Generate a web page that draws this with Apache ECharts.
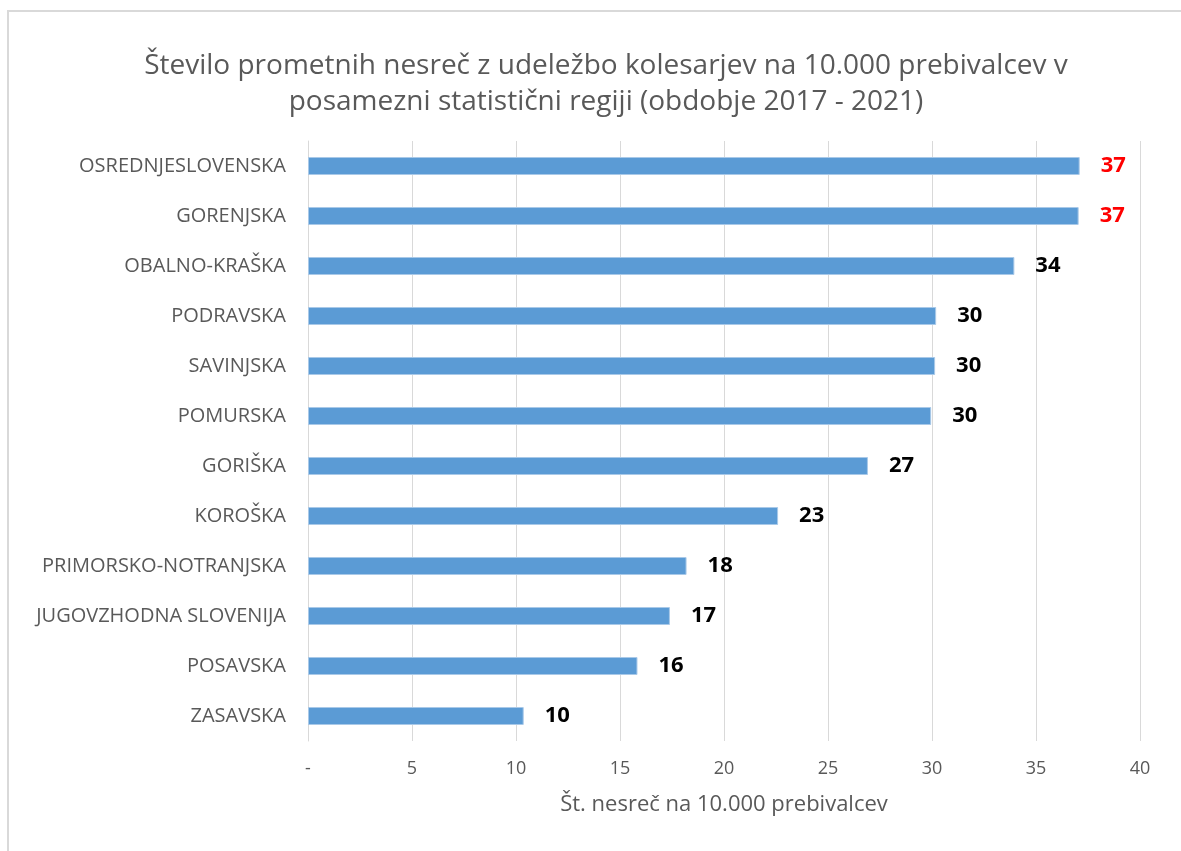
<!DOCTYPE html>
<html>
<head>
<meta charset="utf-8">
<script src="https://cdn.jsdelivr.net/npm/echarts@6/dist/echarts.min.js"></script>
<style>
  html, body { margin: 0; padding: 0; background: #fff; }
  #frame { position: absolute; left: 7px; top: 10px; width: 1174px; height: 841px;
           border-left: 2px solid #d9d9d9; border-top: 2px solid #d9d9d9; box-sizing: border-box; }
  #chart { position: absolute; left: 0; top: 0; width: 1181px; height: 851px; }
</style>
</head>
<body>
<div id="frame"></div>
<div id="chart"></div>
<script>
const regions = [
  'OSREDNJESLOVENSKA', 'GORENJSKA', 'OBALNO-KRAŠKA', 'PODRAVSKA', 'SAVINJSKA', 'POMURSKA',
  'GORIŠKA', 'KOROŠKA', 'PRIMORSKO-NOTRANJSKA', 'JUGOVZHODNA SLOVENIJA', 'POSAVSKA', 'ZASAVSKA'
]
const values = [37.1, 37.05, 33.96, 30.2, 30.15, 29.96, 26.92, 22.6, 18.2, 17.4, 15.84, 10.37]
const highlighted = ['OSREDNJESLOVENSKA', 'GORENJSKA'] // rdeče oznake

const titleText = 'Število prometnih nesreč z udeležbo kolesarjev na 10.000 prebivalcev v\nposamezni statistični regiji (obdobje 2017 - 2021)'
const axisName = 'Št. nesreč na 10.000 prebivalcev'

const font = "'Open Sans', 'Liberation Sans', sans-serif"

const barData = values.map((v, i) => ({
  value: v,
  label: { color: highlighted.includes(regions[i]) ? '#ff0000' : '#000000' }
}))

const chart = echarts.init(document.getElementById('chart'))
chart.setOption({
  backgroundColor: 'transparent',
  animation: false,
  title: {
    text: titleText,
    left: 601,
    top: 43,
    textAlign: 'center',
    textStyle: {
      fontFamily: font,
      fontSize: 28,
      fontWeight: 'normal',
      color: '#595959',
      lineHeight: 36
    }
  },
  grid: { left: 308, right: 41, top: 141, bottom: 110, containLabel: false },
  xAxis: {
    type: 'value',
    min: 0,
    max: 40,
    interval: 5,
    name: axisName,
    nameLocation: 'middle',
    nameGap: 53,
    nameTextStyle: { fontFamily: font, fontSize: 22, color: '#595959' },
    axisLine: { show: false },
    axisTick: { show: false },
    axisLabel: {
      margin: 19,
      fontFamily: font,
      fontSize: 18,
      color: '#595959',
      formatter: v => v === 0 ? '-' : String(v)
    },
    splitLine: { lineStyle: { color: '#d9d9d9', width: 1 } }
  },
  yAxis: {
    type: 'category',
    data: regions,
    inverse: true,
    axisLine: { show: true, lineStyle: { color: '#d9d9d9', width: 1 } },
    axisTick: { show: false },
    axisLabel: { margin: 22, fontFamily: font, fontSize: 20, color: '#595959' }
  },
  series: [{
    type: 'bar',
    data: barData,
    barWidth: 18,
    itemStyle: { color: '#5b9bd5', borderColor: '#a9c9e8', borderWidth: 1 },
    label: {
      show: true,
      position: 'right',
      distance: 21,
      fontFamily: font,
      fontSize: 22,
      fontWeight: 'bold',
      formatter: p => Math.round(p.value)
    }
  }]
})
</script>
</body>
</html>
